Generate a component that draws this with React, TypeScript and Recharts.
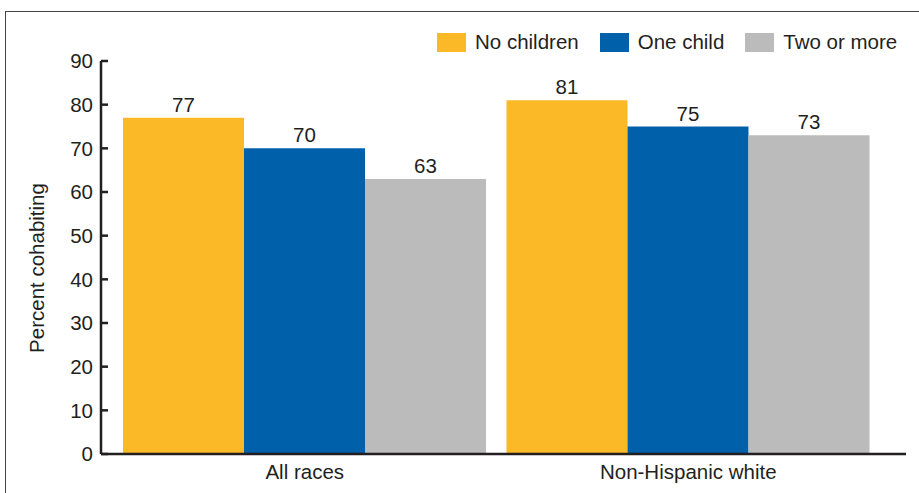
import React from 'react';
import { BarChart, Bar, XAxis, YAxis, Legend, LabelList, Label } from 'recharts';

const groups = ['All races', 'Non-Hispanic white'];
const noChildren = [77, 81];
const oneChild = [70, 75];
const twoOrMore = [63, 73];
const yTicks = [0, 10, 20, 30, 40, 50, 60, 70, 80, 90];

const series = [
  { key: 'none', name: 'No children', color: '#FBB827', values: noChildren },
  { key: 'one', name: 'One child', color: '#0060A9', values: oneChild },
  { key: 'two', name: 'Two or more', color: '#BBBBBB', values: twoOrMore },
];

const data = groups.map((g, i) => {
  const row: Record<string, any> = { group: g };
  series.forEach((s) => { row[s.key] = s.values[i]; });
  return row;
});

const FONT = '"Liberation Sans", Arial, Helvetica, sans-serif';
const INK = '#231f20';
const FS = 20.5;

function LegendBox() {
  return (
    <div style={{ display: 'flex', alignItems: 'center', fontFamily: FONT, fontSize: FS, color: INK, whiteSpace: 'nowrap' }}>
      {series.map((s) => (
        <div key={s.key} style={{ display: 'flex', alignItems: 'center', marginRight: 21 }}>
          <span style={{ display: 'inline-block', width: 29, height: 19, background: s.color, marginRight: 9 }} />
          <span>{s.name}</span>
        </div>
      ))}
    </div>
  );
}

export default function App() {
  return (
    <div style={{ position: 'absolute', left: 0, top: 0, width: 919, height: 493, background: '#fff', overflow: 'hidden' }}>
      <div style={{ position: 'absolute', left: 5, top: 11, width: 914, height: 482, borderTop: '1px solid #444', borderLeft: '1px solid #444' }} />
      <BarChart
        width={919}
        height={493}
        data={data}
        margin={{ top: 61, right: 13, bottom: 9, left: 41 }}
        barGap={0}
        barSize={121}
        style={{ position: 'absolute', left: 0, top: 0 }}
      >
        <XAxis
          dataKey="group"
          height={30}
          tickLine={false}
          tickSize={0}
          tickMargin={10}
          padding={{ left: 12, right: 26 }}
          axisLine={{ stroke: INK, strokeWidth: 2.5 }}
          tick={{ fontSize: FS, fill: INK, fontFamily: FONT }}
        />
        <YAxis
          width={60}
          domain={[0, 90]}
          ticks={yTicks}
          interval={0}
          tickSize={-7}
          tickMargin={15}
          axisLine={{ stroke: INK, strokeWidth: 2.5 }}
          tickLine={{ stroke: INK, strokeWidth: 2.5 }}
          tick={{ fontSize: FS, fill: INK, fontFamily: FONT }}
        >
          <Label
            content={() => (
              <text
                x={36}
                y={268}
                transform="rotate(-90 36 268)"
                textAnchor="middle"
                dominantBaseline="central"
                fontSize={FS}
                fill={INK}
                fontFamily={FONT}
              >
                Percent cohabiting
              </text>
            )}
          />
        </YAxis>
        <Legend
          layout="horizontal"
          verticalAlign="middle"
          align="center"
          wrapperStyle={{ top: 30, left: 437, width: 'auto', height: 'auto' }}
          content={() => <LegendBox />}
        />
        {series.map((s) => (
          <Bar key={s.key} dataKey={s.key} name={s.name} fill={s.color} isAnimationActive={false}>
            <LabelList dataKey={s.key} position="top" offset={6} fill={INK} fontSize={FS} fontFamily={FONT} />
          </Bar>
        ))}
      </BarChart>
    </div>
  );
}
